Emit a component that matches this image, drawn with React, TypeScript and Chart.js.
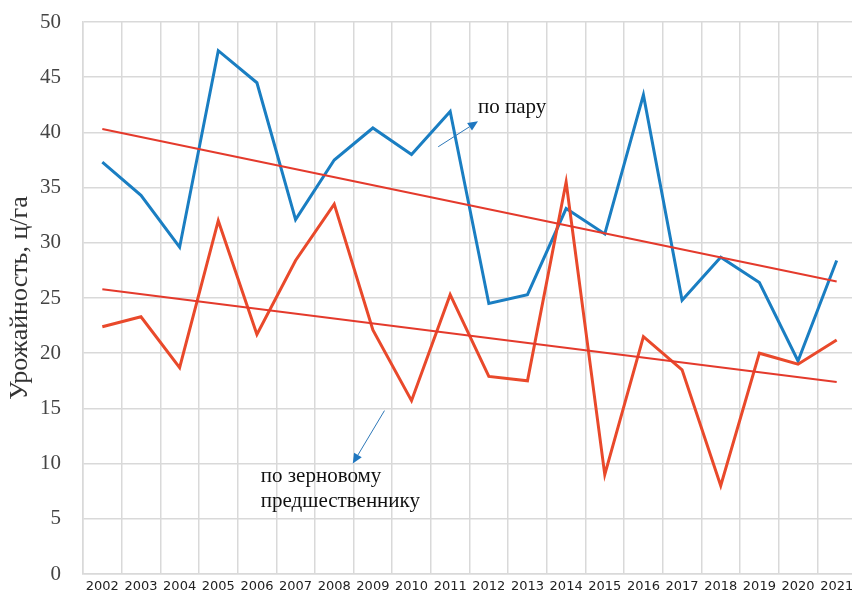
import React, { useEffect, useRef } from "react";
import { Chart, registerables } from "chart.js";

Chart.register(...registerables);

const years = ["2002","2003","2004","2005","2006","2007","2008","2009","2010","2011","2012","2013","2014","2015","2016","2017","2018","2019","2020","2021"];
const poParu = [37.3,34.3,29.6,47.4,44.5,32.1,37.5,40.4,38.0,41.9,24.5,25.3,33.1,30.8,43.4,24.8,28.7,26.4,19.3,28.4];
const poZernovomu = [22.4,23.3,18.7,32.0,21.7,28.4,33.5,22.1,15.7,25.3,17.9,17.5,35.5,9.0,21.5,18.5,8.0,20.0,19.0,21.2];
// trend line end values (first / last year)
const trendParuEnds = [40.3, 26.5];
const trendZernEnds = [25.8, 17.4];
const yTicks = [0,5,10,15,20,25,30,35,40,45,50];

const ends = (e: number[]) => years.map((_, i) => (i === 0 ? e[0] : i === years.length - 1 ? e[1] : null));

// annotations, in data coordinates (category index, value)
const annParu = { text: ["по пару"], tx: 9.72, ty: 42.3, from: [8.69, 38.7], to: [9.72, 41.0] };
const annZern = { text: ["по зерновому", "предшественнику"], tx: 4.1, ty: 8.8, from: [7.3, 14.8], to: [6.48, 10.0] };

const annotationPlugin = {
  id: "ann",
  afterDatasetsDraw(chart: any) {
    const { ctx, scales } = chart;
    const X = (v: number) => scales.x.getPixelForValue(v);
    const Y = (v: number) => scales.y.getPixelForValue(v);
    const drawArrow = (a: any) => {
      const x1 = X(a.from[0]), y1 = Y(a.from[1]);
      const x2 = X(a.to[0]), y2 = Y(a.to[1]);
      const ang = Math.atan2(y2 - y1, x2 - x1);
      const hl = 10, hw = 4.5;
      const bx = x2 - hl * Math.cos(ang), by = y2 - hl * Math.sin(ang);
      ctx.save();
      ctx.strokeStyle = "#2e78b8";
      ctx.fillStyle = "#1f77c0";
      ctx.lineWidth = 1;
      ctx.beginPath();
      ctx.moveTo(x1, y1);
      ctx.lineTo(bx, by);
      ctx.stroke();
      ctx.beginPath();
      ctx.moveTo(x2, y2);
      ctx.lineTo(bx + hw * Math.sin(ang), by - hw * Math.cos(ang));
      ctx.lineTo(bx - hw * Math.sin(ang), by + hw * Math.cos(ang));
      ctx.closePath();
      ctx.fill();
      ctx.restore();
    };
    const drawText = (a: any) => {
      ctx.save();
      ctx.fillStyle = "#111";
      ctx.font = '21px "Liberation Serif", "Times New Roman", serif';
      ctx.textAlign = "left";
      ctx.textBaseline = "middle";
      a.text.forEach((t: string, i: number) => ctx.fillText(t, X(a.tx), Y(a.ty) + i * 25));
      ctx.restore();
    };
    drawArrow(annParu); drawText(annParu);
    drawArrow(annZern); drawText(annZern);
  },
};

export default function App() {
  const ref = useRef<HTMLCanvasElement>(null);
  useEffect(() => {
    if (!ref.current) return;
    const chart = new Chart(ref.current, {
      type: "line",
      data: {
        labels: years,
        datasets: [
          { label: "тренд по пару", data: ends(trendParuEnds), borderColor: "#e43a2c", borderWidth: 2, pointRadius: 0, spanGaps: true, order: 0 },
          { label: "тренд по зерновому", data: ends(trendZernEnds), borderColor: "#e43a2c", borderWidth: 2, pointRadius: 0, spanGaps: true, order: 0 },
          { label: "по зерновому предшественнику", data: poZernovomu, borderColor: "#e9492b", borderWidth: 3, pointRadius: 0, order: 1 },
          { label: "по пару", data: poParu, borderColor: "#1a7ec2", borderWidth: 3, pointRadius: 0, order: 2 },
        ],
      },
      options: {
        animation: false,
        responsive: false,
        devicePixelRatio: 1,
        layout: { padding: { top: 22, right: 6, left: 0, bottom: 0 } },
        plugins: { legend: { display: false }, tooltip: { enabled: false } },
        scales: {
          x: {
            offset: true,
            grid: { offset: true, color: "#d9d9d9", lineWidth: 1.5, drawTicks: false },
            border: { color: "#d9d9d9", width: 1.5 },
            ticks: { color: "#222", font: { family: '"DejaVu Sans", sans-serif', size: 13 }, padding: 5, maxRotation: 0, autoSkip: false },
            afterFit: (s: any) => { s.height = 19; s.paddingLeft = 0; s.paddingRight = 0; },
          },
          y: {
            min: 0,
            max: 50,
            afterBuildTicks: (s: any) => { s.ticks = yTicks.map((v) => ({ value: v })); },
            grid: { color: "#d9d9d9", lineWidth: 1.5, drawTicks: false },
            border: { color: "#d9d9d9", width: 1.5 },
            ticks: { color: "#444", font: { family: '"Liberation Serif", "Times New Roman", serif', size: 21 }, padding: 22 },
            title: { display: true, text: "Урожайность, ц/га", color: "#333", font: { family: '"Liberation Serif", "Times New Roman", serif', size: 26 }, padding: { top: 5, bottom: 0 } },
            afterFit: (s: any) => { s.width = 83; s.paddingTop = 0; s.paddingBottom = 0; },
          },
        },
      },
      plugins: [annotationPlugin],
    });
    return () => chart.destroy();
  }, []);
  return (
    <div style={{ position: "absolute", left: 0, top: 0, width: 852, height: 593, overflow: "hidden", background: "#fff" }}>
      <canvas ref={ref} width={862} height={593} style={{ display: "block" }} />
    </div>
  );
}
